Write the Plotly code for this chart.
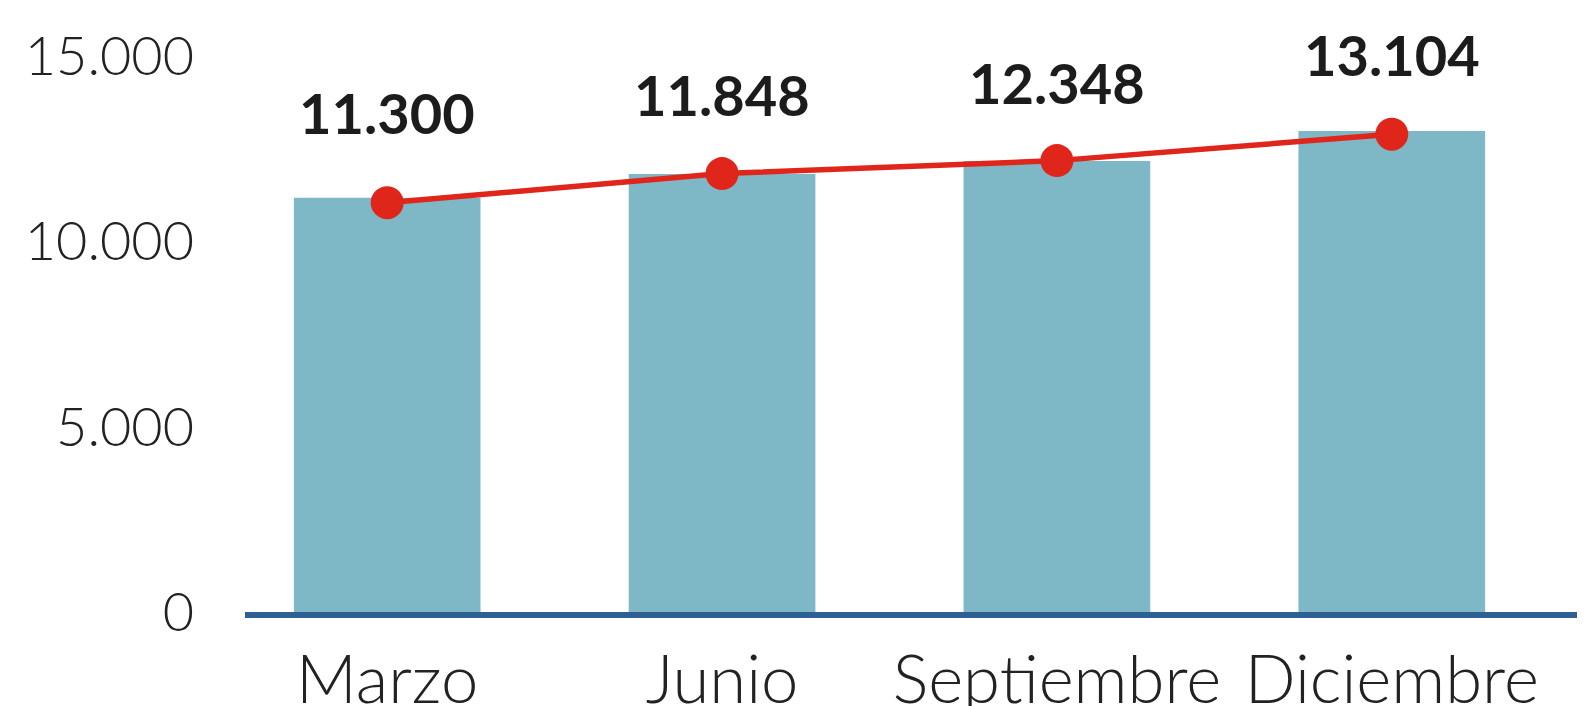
import plotly.graph_objects as go

categories = ["Marzo", "Junio", "Septiembre", "Diciembre"]
bar_values = [11180, 11820, 12170, 12980]
line_values = [11045, 11828, 12179, 12892]
label_texts = ["11.300", "11.848", "12.348", "13.104"]
label_shifts = [90, 79, 78, 80]
y_tick_vals = [0, 5000, 10000, 15000]
y_tick_text = ["0", "5.000", "10.000", "15.000"]

fig = go.Figure()
fig.add_trace(go.Bar(
    x=categories, y=bar_values, marker=dict(color="#7EB8C7", line=dict(width=0)),
    width=0.5575, hoverinfo="skip", showlegend=False,
))
fig.add_trace(go.Scatter(
    x=categories, y=line_values, mode="lines+markers",
    line=dict(color="#E0251B", width=5.5),
    marker=dict(color="#E0251B", size=33),
    hoverinfo="skip", showlegend=False,
))
for c, v, t, s in zip(categories, line_values, label_texts, label_shifts):
    fig.add_annotation(
        x=c, y=v, text=t, showarrow=False, yanchor="middle", yshift=s,
        font=dict(family="Lato", size=56, color="#1c1c1c", weight=700),
    )

# page body has an 8px default margin; size/margins compensate for it
fig.update_layout(
    width=1577, height=698,
    margin=dict(l=237, r=0, t=11, b=94),
    paper_bgcolor="white", plot_bgcolor="white",
    xaxis=dict(
        range=[-0.4246, 3.577], showline=True, linecolor="#2E6094", linewidth=6,
        showgrid=False, zeroline=False, ticks="", automargin=False,
        tickfont=dict(family="Lato", size=67, color="#222222", weight=300),
        ticklabelstandoff=5,
    ),
    yaxis=dict(
        range=[0, 16000], showline=False, showgrid=False, zeroline=False,
        tickvals=y_tick_vals, ticktext=y_tick_text, ticks="", automargin=False,
        tickfont=dict(family="Lato", size=54, color="#222222", weight=300),
        ticklabelstandoff=50,
    ),
)
fig.write_html("out.html")
